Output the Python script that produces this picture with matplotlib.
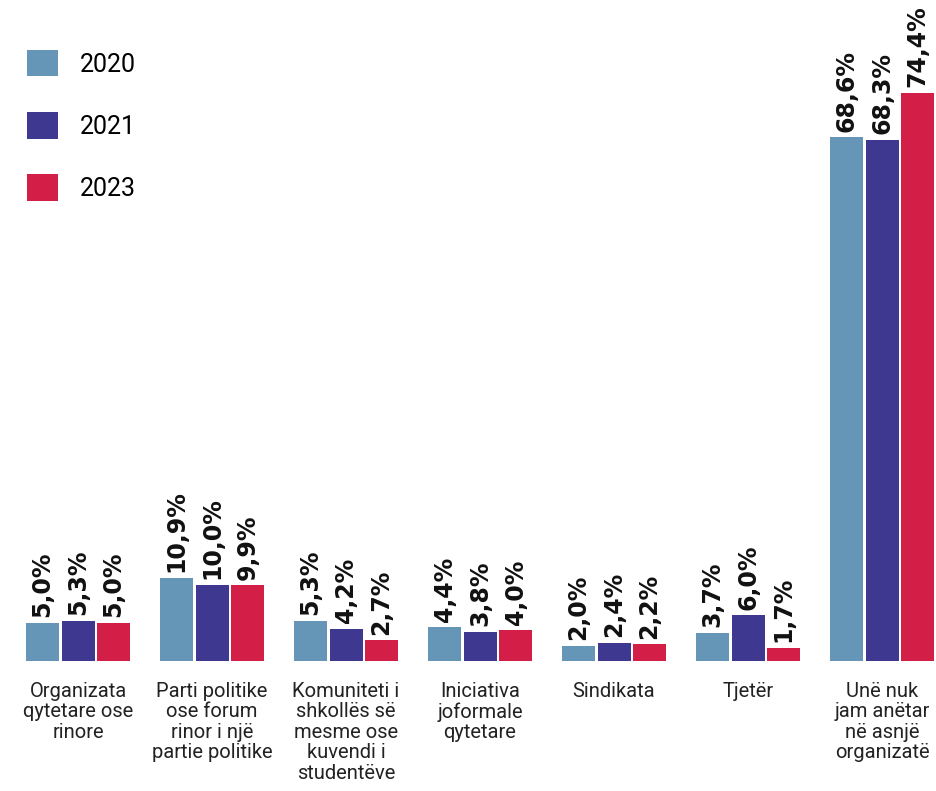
import matplotlib.pyplot as plt
import numpy as np

categories = [
    "Organizata\nqytetare ose\nrinore",
    "Parti politike\nose forum\nrinor i një\npartie politike",
    "Komuniteti i\nshkollës së\nmesme ose\nkuvendi i\nstudentëve",
    "Iniciativa\njoformale\nqytetare",
    "Sindikata",
    "Tjetër",
    "Unë nuk\njam anëtar\nnë asnjë\norganizatë",
]
years = ["2020", "2021", "2023"]
v2020 = [5.0, 10.9, 5.3, 4.4, 2.0, 3.7, 68.6]
v2021 = [5.3, 10.0, 4.2, 3.8, 2.4, 6.0, 68.3]
v2023 = [5.0, 9.9, 2.7, 4.0, 2.2, 1.7, 74.4]
colors = ["#6596b8", "#3f3891", "#d31f48"]

fig = plt.figure(figsize=(9.36, 7.91), dpi=100)
ax = fig.add_axes([0, 130 / 791, 1, 661 / 791])

x = np.arange(len(categories))
width = 33 / 134
step = 35.5 / 134

for k, (vals, year, c) in enumerate(zip([v2020, v2021, v2023], years, colors)):
    pos = x + (k - 1) * step
    ax.bar(pos, vals, width, color=c, label=year)
    for xi, v in zip(pos, vals):
        ax.annotate(f"{v:.1f}%".replace(".", ","), (xi, v), xytext=(0, 4),
                    textcoords="offset points", rotation=90, ha="center",
                    va="bottom", fontsize=17, fontweight="bold",
                    family="DejaVu Sans", color="#111111")

ax.set_xlim(-78 / 134, (936 - 78) / 134)
ax.set_ylim(0, 661 / 7.634)
ax.set_xticks(x)
ax.set_xticklabels(categories, fontsize=14.5, family="Roboto",
                   linespacing=1.1, color="#222222")
ax.tick_params(axis="x", length=0, pad=15)
ax.set_yticks([])
for s in ax.spines.values():
    s.set_visible(False)

fig.legend(loc="upper left", bbox_to_anchor=(27 / 936, 1 - 50 / 791),
           frameon=False, handlelength=1.25, handleheight=1.25,
           labelspacing=1.42, handletextpad=0.85, borderpad=0,
           borderaxespad=0, prop={"family": "Roboto", "size": 18})

fig.savefig("out.png", dpi=100)
